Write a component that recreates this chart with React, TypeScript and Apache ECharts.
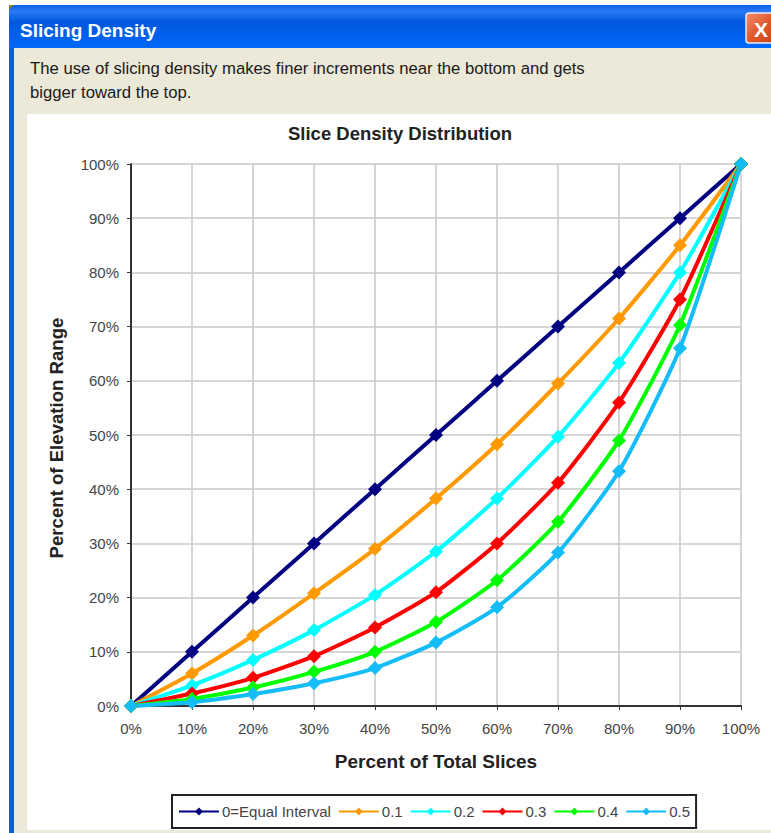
import React, { useEffect, useRef } from "react";
import * as echarts from "echarts";

const windowTitle = "Slicing Density";
const closeLabel = "X";
const descriptionLines = [
  "The use of slicing density makes finer increments near the bottom and gets",
  "bigger toward the top.",
];
const chartTitle = "Slice Density Distribution";
const xAxisName = "Percent of Total Slices";
const yAxisName = "Percent of Elevation Range";

const slicesPct = [0, 10, 20, 30, 40, 50, 60, 70, 80, 90, 100];
const seriesNames = ["0=Equal Interval", "0.1", "0.2", "0.3", "0.4", "0.5"];
const seriesColors = ["#000080", "#ff9900", "#00ffff", "#ff0000", "#00ff00", "#14bdf8"];
const equalInterval = [0, 10, 20, 30, 40, 50, 60, 70, 80, 90, 100];
const density01 = [0, 6, 13, 20.8, 29, 38.3, 48.3, 59.5, 71.5, 85, 100];
const density02 = [0, 3.8, 8.5, 14, 20.5, 28.5, 38.3, 49.7, 63.3, 80, 100];
const density03 = [0, 2.3, 5.2, 9.2, 14.5, 21, 30, 41.2, 56, 75, 100];
const density04 = [0, 1.3, 3.4, 6.3, 10, 15.5, 23.2, 34, 49, 70.3, 100];
const density05 = [0, 0.7, 2.2, 4.2, 7, 11.7, 18.2, 28.3, 43.3, 66, 100];
const seriesValues = [equalInterval, density01, density02, density03, density04, density05];

const SANS = '"Liberation Sans", Arial, sans-serif';

export default function App() {
  const ref = useRef<HTMLDivElement>(null);
  useEffect(() => {
    const chart = echarts.init(ref.current!, undefined, { renderer: "svg" });
    chart.setOption({
      animation: false,
      backgroundColor: "#ffffff",
      textStyle: { fontFamily: SANS },
      grid: { left: 131, top: 164, width: 610, height: 542, containLabel: false },
      xAxis: {
        type: "value",
        min: 0,
        max: 100,
        interval: 10,
        axisLine: { onZero: false, lineStyle: { color: "#333333", width: 2 } },
        axisTick: { show: true, length: 4, lineStyle: { color: "#333333", width: 1 } },
        axisLabel: { formatter: "{value}%", color: "#444444", fontSize: 15, margin: 15, fontFamily: SANS },
        splitLine: { show: true, lineStyle: { color: "#c8c8c8", width: 1.5 } },
        name: xAxisName,
        nameLocation: "middle",
        nameGap: 46,
        nameTextStyle: { color: "#222222", fontSize: 19, fontWeight: "bold", fontFamily: SANS },
      },
      yAxis: {
        type: "value",
        min: 0,
        max: 100,
        interval: 10,
        axisLine: { onZero: false, lineStyle: { color: "#333333", width: 2 } },
        axisTick: { show: true, length: 4, lineStyle: { color: "#333333", width: 1 } },
        axisLabel: { formatter: "{value}%", color: "#444444", fontSize: 15, margin: 12, fontFamily: SANS },
        splitLine: { show: true, lineStyle: { color: "#c8c8c8", width: 1.5 } },
        name: yAxisName,
        nameLocation: "middle",
        nameGap: 65,
        nameRotate: 90,
        nameTextStyle: { color: "#222222", fontSize: 18.6, fontWeight: "bold", fontFamily: SANS, padding: [0, 6, 0, 0] },
      },
      title: {
        text: chartTitle,
        left: 288,
        top: 124,
        padding: 0,
        textStyle: { color: "#222222", fontSize: 18.5, fontWeight: "bold", fontFamily: SANS },
      },
      legend: {
        show: true,
        left: 172,
        top: 795,
        selectedMode: false,
        backgroundColor: "#ffffff",
        borderColor: "#222222",
        borderWidth: 2,
        padding: [9, 6],
        itemGap: 7,
        itemWidth: 40,
        itemHeight: 10,
        textStyle: { color: "#444444", fontSize: 15, fontFamily: SANS, padding: [0, 0, 0, -2] },
        data: seriesNames,
      },
      series: seriesNames.map((name, i) => ({
        name,
        type: "line",
        smooth: 0.2,
        symbol: "diamond",
        symbolSize: 14,
        showSymbol: true,
        lineStyle: { color: seriesColors[i], width: 4 },
        itemStyle: { color: seriesColors[i] },
        data: slicesPct.map((x, k) => [x, seriesValues[i][k]]),
      })),
      graphic: {
        elements: [
          { type: "rect", z: -10, silent: true, shape: { x: 0, y: 0, width: 771, height: 833 }, style: { fill: "#ffffff" } },
          { type: "polygon", z: -10, silent: true, shape: { points: [[9, 5], [20, 5], [9, 14]] }, style: { fill: "#86861f" } },
          { type: "rect", z: -9, silent: true, shape: { x: 9, y: 5, width: 762, height: 828, r: [8, 0, 0, 0] }, style: { fill: "#0a5be6" } },
          {
            type: "rect",
            z: -8,
            silent: true,
            shape: { x: 9, y: 5, width: 762, height: 43, r: [8, 0, 0, 0] },
            style: {
              fill: new echarts.graphic.LinearGradient(0, 0, 0, 1, [
                { offset: 0, color: "#0a5fe8" },
                { offset: 0.15, color: "#2a78f5" },
                { offset: 0.4, color: "#0058de" },
                { offset: 0.8, color: "#0062f0" },
                { offset: 1, color: "#0068fa" },
              ]),
            },
          },
          { type: "rect", z: -7, silent: true, shape: { x: 14, y: 48, width: 757, height: 785 }, style: { fill: "#ece9d8" } },
          { type: "rect", z: -6, silent: true, shape: { x: 27, y: 114, width: 744, height: 716 }, style: { fill: "#ffffff" } },
          {
            type: "text",
            x: 20,
            y: 30,
            style: { text: windowTitle, fill: "#ffffff", font: `bold 19px ${SANS}`, textVerticalAlign: "middle", shadowColor: "#00246e", shadowBlur: 2, shadowOffsetX: 1, shadowOffsetY: 1 },
          },
          {
            type: "rect",
            shape: { x: 746, y: 13, width: 32, height: 30, r: 3 },
            style: {
              fill: new echarts.graphic.LinearGradient(0, 0, 1, 1, [
                { offset: 0, color: "#ee8e6c" },
                { offset: 0.5, color: "#e0582a" },
                { offset: 1, color: "#c8401a" },
              ]),
              stroke: "#e8eefc",
              lineWidth: 1.5,
            },
          },
          { type: "text", x: 754, y: 29, style: { text: closeLabel, fill: "#ffffff", font: `bold 21px ${SANS}`, textVerticalAlign: "middle" } },
          { type: "text", x: 30, y: 68, style: { text: descriptionLines[0], fill: "#1a1a1a", font: `16.7px ${SANS}`, textVerticalAlign: "middle" } },
          { type: "text", x: 30, y: 92, style: { text: descriptionLines[1], fill: "#1a1a1a", font: `16.7px ${SANS}`, textVerticalAlign: "middle" } },
        ],
      },
    });
    return () => chart.dispose();
  }, []);
  return (
    <div
      ref={ref}
      style={{ position: "absolute", left: 0, top: 0, width: 771, height: 833 }}
    />
  );
}
